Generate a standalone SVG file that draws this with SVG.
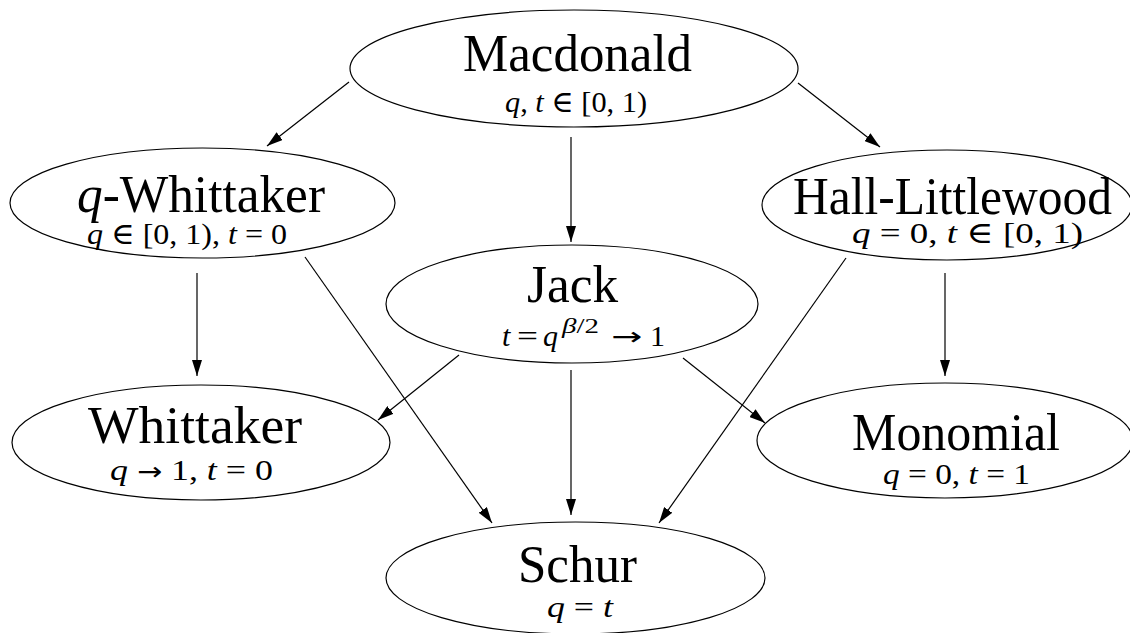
<svg xmlns="http://www.w3.org/2000/svg" width="1130" height="633" viewBox="0 0 1130 633">
<style>
.node ellipse{fill:#fff;stroke:#000;stroke-width:1.2}
.t{font-family:"Liberation Serif","DejaVu Serif",serif;font-size:52px;fill:#000}
.s{font-family:"Liberation Serif","DejaVu Serif",serif;font-size:30px;fill:#000}
.i{font-style:italic}
.a{font-family:"DejaVu Sans","Liberation Sans",sans-serif;font-size:25px}
.edge line{stroke:#000;stroke-width:1.2;fill:none;marker-end:url(#arr)}
</style>
<defs>
<marker id="arr" markerUnits="userSpaceOnUse" markerWidth="16" markerHeight="10" refX="16" refY="5" orient="auto">
<path d="M0,0 L16,5 L0,10 z" fill="#000"/>
</marker>
</defs>
<rect width="1130" height="633" fill="#fff"/>
<g id="edges" class="edge">
<line x1="349" y1="82" x2="267" y2="146"/>
<line x1="571" y1="137" x2="571" y2="242"/>
<line x1="798" y1="83" x2="880" y2="147"/>
<line x1="197" y1="273" x2="197" y2="376"/>
<line x1="305" y1="257" x2="492" y2="523"/>
<line x1="945" y1="273" x2="945" y2="376"/>
<line x1="846" y1="258" x2="659" y2="523"/>
<line x1="459" y1="355" x2="378" y2="420"/>
<line x1="571" y1="370" x2="571" y2="515"/>
<line x1="683" y1="358" x2="765" y2="423"/>
</g>
<g id="macdonald" class="node">
<ellipse cx="574" cy="68.5" rx="224" ry="58.5"/>
<text class="t" x="463" y="71" textLength="229" lengthAdjust="spacingAndGlyphs">Macdonald</text>
<text class="s" x="505" y="112" textLength="142" lengthAdjust="spacingAndGlyphs"><tspan class="i">q</tspan>, <tspan class="i">t</tspan> ∈ [0, 1)</text>
</g>
<g id="qwhittaker" class="node">
<ellipse cx="202.5" cy="203" rx="192.5" ry="55"/>
<text class="t" x="77" y="212" textLength="248" lengthAdjust="spacingAndGlyphs"><tspan class="i">q</tspan>-Whittaker</text>
<text class="s" x="87" y="244" textLength="200" lengthAdjust="spacingAndGlyphs"><tspan class="i">q</tspan> ∈ [0, 1), <tspan class="i">t</tspan> = 0</text>
</g>
<g id="halllittlewood" class="node">
<ellipse cx="947" cy="205" rx="185" ry="55"/>
<text class="t" x="793" y="214" textLength="319" lengthAdjust="spacingAndGlyphs">Hall-Littlewood</text>
<text class="s" x="852" y="243" textLength="231" lengthAdjust="spacingAndGlyphs"><tspan class="i">q</tspan> = 0, <tspan class="i">t</tspan> ∈ [0, 1)</text>
</g>
<g id="jack" class="node">
<ellipse cx="572" cy="304" rx="186" ry="59"/>
<text class="t" x="527" y="302" textLength="91" lengthAdjust="spacingAndGlyphs">Jack</text>
<text class="s i" x="502" y="346">t</text>
<text class="s" x="517" y="346" textLength="21" lengthAdjust="spacingAndGlyphs">=</text>
<text class="s i" x="543" y="346">q</text>
<text class="s" x="562" y="333" style="font-size:20px" textLength="37" lengthAdjust="spacingAndGlyphs"><tspan class="i">β</tspan>/2</text>
<text class="s a" x="611" y="345" textLength="31" lengthAdjust="spacingAndGlyphs">→</text>
<text class="s" x="650" y="346">1</text>
</g>
<g id="whittaker" class="node">
<ellipse cx="201" cy="442.5" rx="189" ry="57.5"/>
<text class="t" x="88" y="443" textLength="214" lengthAdjust="spacingAndGlyphs">Whittaker</text>
<text class="s" x="110" y="480" textLength="163" lengthAdjust="spacingAndGlyphs"><tspan class="i">q</tspan> <tspan class="a">→</tspan> 1, <tspan class="i">t</tspan> = 0</text>
</g>
<g id="monomial" class="node">
<ellipse cx="945" cy="440.5" rx="188" ry="57.5"/>
<text class="t" x="852" y="450" textLength="208" lengthAdjust="spacingAndGlyphs">Monomial</text>
<text class="s" x="883" y="484" textLength="147" lengthAdjust="spacingAndGlyphs"><tspan class="i">q</tspan> = 0, <tspan class="i">t</tspan> = 1</text>
</g>
<g id="schur" class="node">
<ellipse cx="575.5" cy="578" rx="189.5" ry="56"/>
<text class="t" x="518" y="582" textLength="119" lengthAdjust="spacingAndGlyphs">Schur</text>
<text class="s" x="547" y="617" textLength="66" lengthAdjust="spacingAndGlyphs"><tspan class="i">q</tspan> = <tspan class="i">t</tspan></text>
</g>
</svg>
